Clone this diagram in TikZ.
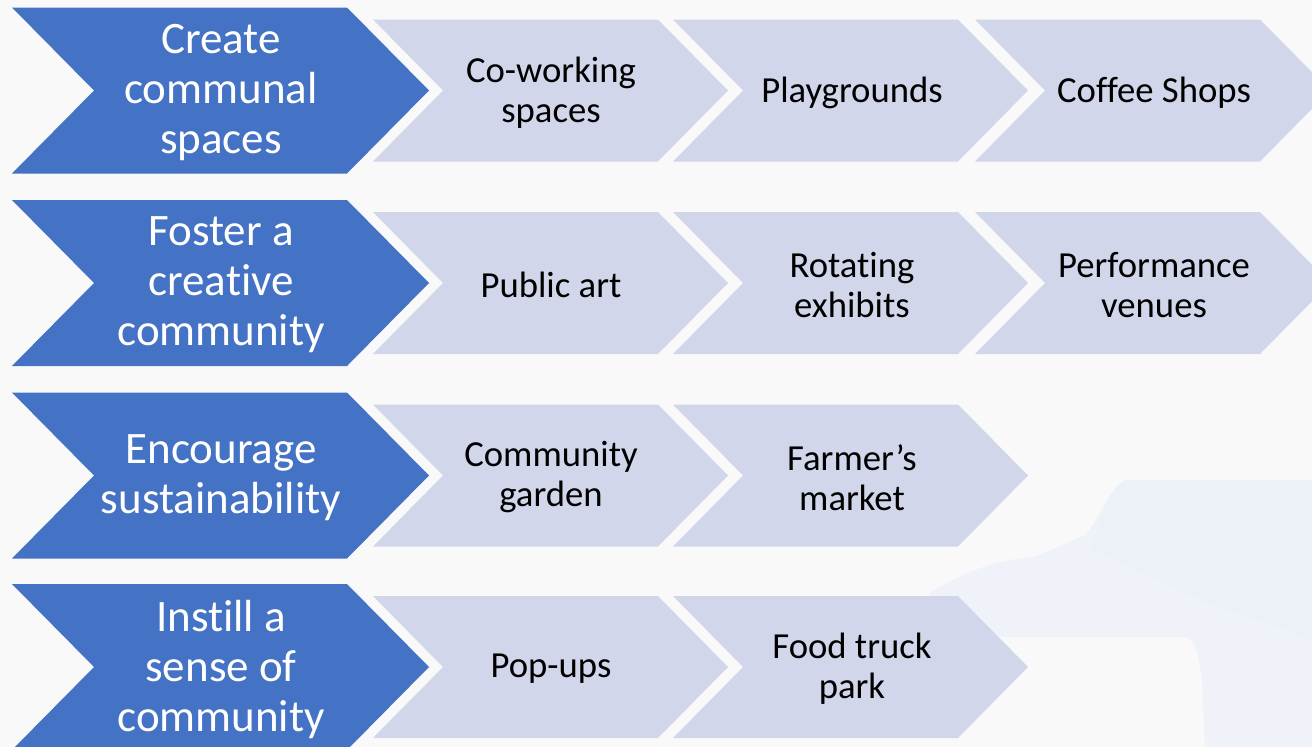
\documentclass[tikz,border=0pt]{standalone}
\usepackage{fontspec}
\setmainfont{Carlito}[Ligatures=CommonOff]
\definecolor{bgcol}{HTML}{F9F9F9}
\definecolor{mainblue}{HTML}{4472C4}
\definecolor{lightchev}{HTML}{D1D6EA}
\definecolor{ghostcol}{HTML}{EFF2F8}
\definecolor{ghostcolb}{HTML}{EAEFF7}
\newcommand\bluechevron[1]{%
  \fill[bluefill] (12,#1-83) -- (347,#1-83) -- (429,#1) -- (347,#1+83) -- (12,#1+83) -- (94,#1) -- cycle;}
\newcommand\lightchevron[2]{%
  \fill[lightfill] (#1,#2-71) -- (#1+285,#2-71) -- (#1+355,#2) -- (#1+285,#2+71) -- (#1,#2+71) -- (#1+70,#2) -- cycle;}
\begin{document}
\begin{tikzpicture}[x=1pt,y=-1pt,
  bigtext/.style={text=white,font=\fontsize{45}{50}\selectfont,align=center,inner sep=0pt,yshift=-2pt},
  smalltext/.style={text=black,font=\fontsize{36.7}{40}\selectfont,align=center,inner sep=0pt,yshift=-2pt},
  bluefill/.style={fill=mainblue},
  lightfill/.style={fill=lightchev}]
\useasboundingbox (0,0) rectangle (1312,747);
\clip (0,0) rectangle (1312,747);
\fill[bgcol] (0,0) rectangle (1312,747);
% faint background shapes
\fill[ghostcol] (930,593) .. controls (975,566) and (1000,560) .. (1035,557)
  -- (1085,535) .. controls (1100,520) and (1108,490) .. (1125,480) -- (1312,480)
  -- (1312,747) -- (1205,747) -- (1202,680) .. controls (1198,650) and (1195,640) .. (1185,637)
  -- (960,637) .. controls (945,630) .. cycle;
\fill[ghostcolb, opacity=0.5] (1125,480) -- (1312,480) -- (1312,640) -- (1200,600) -- (1090,548)
  -- (1100,525) .. controls (1108,495) .. cycle;
% row 1
\bluechevron{90.5}
\lightchevron{373}{90.5}
\lightchevron{673}{90.5}
\lightchevron{975}{90.5}
\node[bigtext] (r1) at (221,90.5) {Create\\communal\\spaces};
\node[smalltext] (r1a) at (551,90.5) {Co-working\\spaces};
\node[smalltext] (r1b) at (852,90.5) {Playgrounds};
\node[smalltext] (r1c) at (1154,90.5) {Coffee Shops};
% row 2
\bluechevron{283}
\lightchevron{373}{283}
\lightchevron{673}{283}
\lightchevron{975}{283}
\node[bigtext] (r2) at (221,283) {Foster a\\creative\\community};
\node[smalltext] (r2a) at (551,283) {Public art};
\node[smalltext] (r2b) at (852,283) {Rotating\\exhibits};
\node[smalltext] (r2c) at (1154,283) {Performance\\venues};
% row 3
\bluechevron{475.5}
\lightchevron{373}{475.5}
\lightchevron{673}{475.5}
\node[bigtext] (r3) at (221,475.5) {Encourage\\sustainability};
\node[smalltext] (r3a) at (551,475.5) {Community\\garden};
\node[smalltext] (r3b) at (852,475.5) {Farmer’s\\market};
% row 4
\bluechevron{667}
\lightchevron{373}{667}
\lightchevron{673}{667}
\node[bigtext] (r4) at (221,667) {Instill a\\sense of\\community};
\node[smalltext] (r4a) at (551,667) {Pop-ups};
\node[smalltext] (r4b) at (852,667) {Food truck\\park};
\end{tikzpicture}
\end{document}
